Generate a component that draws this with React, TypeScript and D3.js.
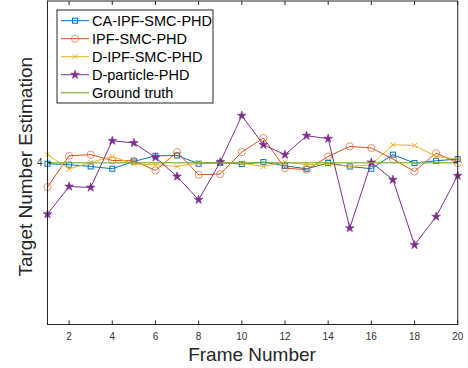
import React, { useEffect, useRef } from 'react';
import * as d3 from 'd3';

const frames = d3.range(1, 21);
const caIpf = [3.994, 3.988, 3.977, 3.963, 4.008, 4.043, 4.045, 3.994, 4.0, 3.992, 4.004, 3.981, 3.963, 3.998, 3.977, 3.963, 4.05, 3.998, 4.012, 4.023];
const ipf = [3.85, 4.043, 4.05, 4.014, 4.012, 3.952, 4.066, 3.926, 3.93, 4.066, 4.153, 3.967, 3.957, 4.039, 4.101, 4.091, 4.023, 3.946, 4.06, 3.998];
const dIpf = [4.05, 3.961, 4.002, 4.039, 3.992, 3.988, 3.977, 3.998, 3.998, 3.998, 3.977, 4.004, 3.988, 3.992, 3.977, 3.988, 4.111, 4.107, 4.039, 4.023];
const dParticle = [3.682, 3.853, 3.847, 4.136, 4.122, 4.033, 3.915, 3.771, 4.004, 4.291, 4.111, 4.05, 4.167, 4.149, 3.596, 4.002, 3.895, 3.492, 3.667, 3.92];
const truth = frames.map(() => 4);
const xTicks = [2, 4, 6, 8, 10, 12, 14, 16, 18, 20];
const yTicks = [4];

type Series = { name: string; values: number[]; color: string; marker: string; width: number; opacity: number };

const series: Series[] = [
	{ name: 'CA-IPF-SMC-PHD', values: caIpf, color: '#0072BD', marker: 'square', width: 1, opacity: 1 },
	{ name: 'IPF-SMC-PHD', values: ipf, color: '#D95319', marker: 'circle', width: 1, opacity: 1 },
	{ name: 'D-IPF-SMC-PHD', values: dIpf, color: '#EDB120', marker: 'cross', width: 1, opacity: 1 },
	{ name: 'D-particle-PHD', values: dParticle, color: '#7E2F8E', marker: 'star', width: 1, opacity: 1 },
	{ name: 'Ground truth', values: truth, color: '#77AC30', marker: 'none', width: 1.6, opacity: 0.75 },
];

function drawMarker(g: d3.Selection<SVGGElement, unknown, null, undefined>, kind: string, x: number, y: number, color: string) {
	if (kind === 'square') {
		g.append('rect').attr('x', x - 2.5).attr('y', y - 2.5).attr('width', 5).attr('height', 5)
			.attr('fill', 'none').attr('stroke', color).attr('stroke-width', 1);
	} else if (kind === 'circle') {
		g.append('circle').attr('cx', x).attr('cy', y).attr('r', 3.6)
			.attr('fill', 'none').attr('stroke', color).attr('stroke-width', 0.8).attr('opacity', 0.75);
	} else if (kind === 'cross') {
		g.append('path').attr('d', `M${x - 2.5},${y - 2.5}L${x + 2.5},${y + 2.5}M${x - 2.5},${y + 2.5}L${x + 2.5},${y - 2.5}`)
			.attr('stroke', color).attr('stroke-width', 1);
	} else if (kind === 'star') {
		g.append('path').attr('d', d3.symbol().type(d3.symbolStar).size(24)() as string)
			.attr('transform', `translate(${x},${y})`).attr('fill', color).attr('stroke', color).attr('stroke-width', 0.6);
	}
}

export default function App(): JSX.Element {
	const ref = useRef<SVGSVGElement | null>(null);
	useEffect(() => {
		if (!ref.current) return;
		const W = 468, H = 368;
		const left = 47.5, right = 457.7, top = 1, bottom = 324.5;
		const svg = d3.select(ref.current);
		svg.selectAll('*').remove();
		svg.attr('width', W).attr('height', H).style('font-family', 'Liberation Sans, Arial, sans-serif');

		const x = d3.scaleLinear().domain([1, 20]).range([left, right]);
		const y = d3.scaleLinear().domain([3, 5]).range([bottom, top]);

		svg.append('rect').attr('x', 0).attr('y', 0).attr('width', W).attr('height', H).attr('fill', '#fff');

		const plot = svg.append('g');
		const line = d3.line<number>().x((_, i) => x(frames[i])).y((d) => y(d));
		series.forEach((s) => {
			plot.append('path').attr('d', line(s.values) as string).attr('fill', 'none')
				.attr('stroke', s.color).attr('stroke-width', s.width).attr('opacity', s.opacity);
			s.values.forEach((v, i) => drawMarker(plot as any, s.marker, x(frames[i]), y(v), s.color));
		});

		// axes box and ticks
		const ax = svg.append('g').attr('stroke', '#262626').attr('stroke-width', 1);
		ax.append('rect').attr('x', left).attr('y', top).attr('width', right - left).attr('height', bottom - top)
			.attr('fill', 'none');
		xTicks.forEach((t) => {
			ax.append('line').attr('x1', x(t)).attr('x2', x(t)).attr('y1', bottom).attr('y2', bottom - 4);
			ax.append('line').attr('x1', x(t)).attr('x2', x(t)).attr('y1', top).attr('y2', top + 4);
			svg.append('text').attr('x', x(t)).attr('y', bottom + 15).attr('text-anchor', 'middle')
				.attr('fill', '#333').style('font-size', '10px').text(t);
		});
		yTicks.forEach((t) => {
			ax.append('line').attr('x1', left).attr('x2', left + 4).attr('y1', y(t)).attr('y2', y(t));
			ax.append('line').attr('x1', right).attr('x2', right - 4).attr('y1', y(t)).attr('y2', y(t));
			svg.append('text').attr('x', left - 5).attr('y', y(t)).attr('dy', '0.35em').attr('text-anchor', 'end')
				.attr('fill', '#333').style('font-size', '10px').text(t);
		});

		svg.append('text').attr('x', 252).attr('y', 361).attr('text-anchor', 'middle')
			.attr('fill', '#262626').style('font-size', '19px').text('Frame Number');
		svg.append('text').attr('transform', `translate(32,${(top + bottom) / 2 + 4}) rotate(-90)`).attr('text-anchor', 'middle')
			.attr('fill', '#262626').style('font-size', '19px').text('Target Number Estimation');

		// legend
		const lg = svg.append('g');
		lg.append('rect').attr('x', 57).attr('y', 10).attr('width', 156).attr('height', 93)
			.attr('fill', '#fff').attr('stroke', '#262626').attr('stroke-width', 1);
		series.forEach((s, i) => {
			const cy = 20.7 + i * 18;
			lg.append('line').attr('x1', 61).attr('x2', 89).attr('y1', cy).attr('y2', cy)
				.attr('stroke', s.color).attr('stroke-width', s.width).attr('opacity', s.opacity);
			drawMarker(lg as any, s.marker, 75, cy, s.color);
			lg.append('text').attr('x', 92).attr('y', cy).attr('dy', '0.36em').attr('fill', '#000')
				.style('font-size', '14.5px').text(s.name);
		});
	}, []);
	return <svg ref={ref} style={{ position: 'absolute', left: 0, top: 0 }} />;
}
